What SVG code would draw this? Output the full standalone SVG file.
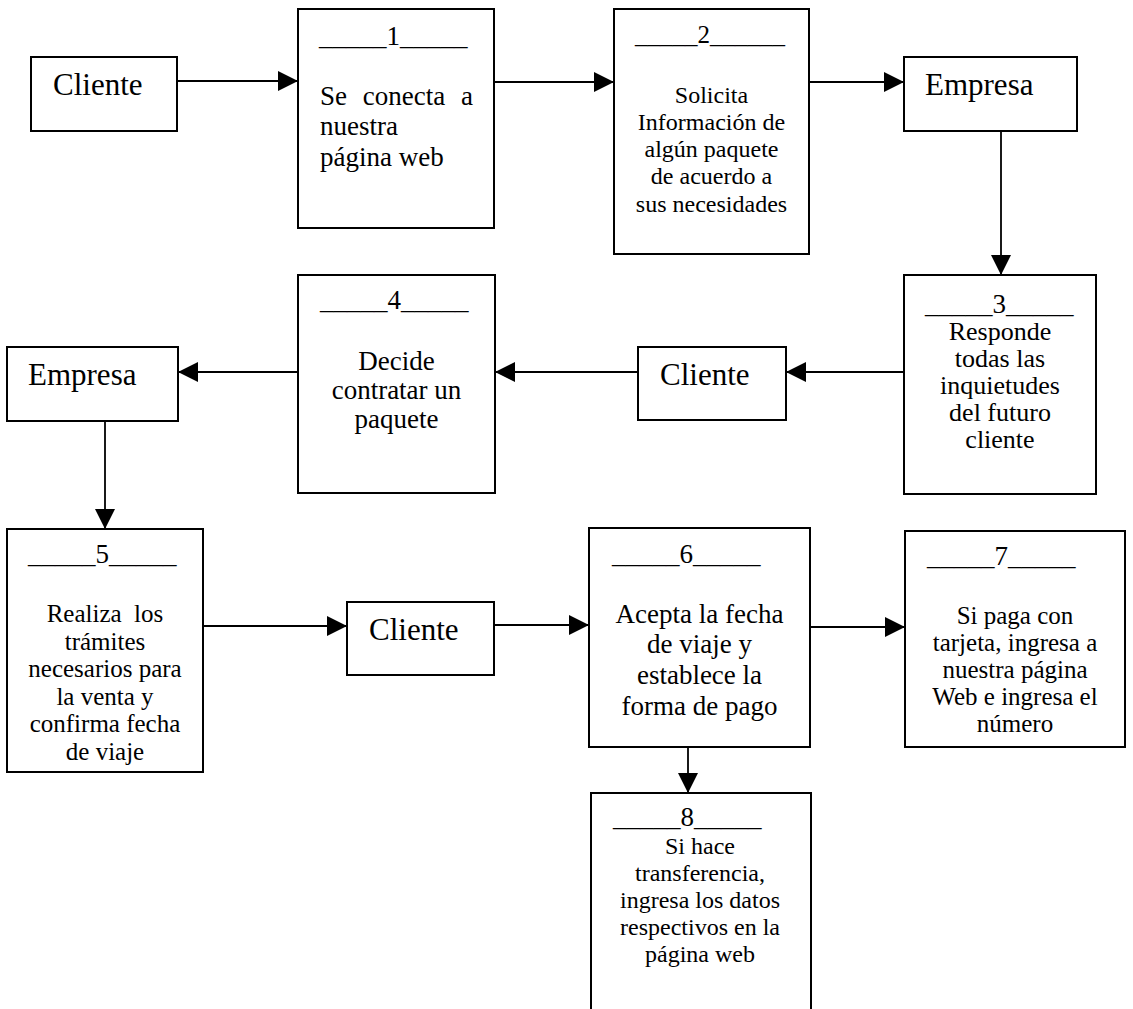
<svg xmlns="http://www.w3.org/2000/svg" width="1133" height="1009" viewBox="0 0 1133 1009">
  <style>
    .box { fill: #ffffff; stroke: #000000; stroke-width: 2; }
    .link { fill: none; stroke: #000000; stroke-width: 1.8; marker-end: url(#arrow); }
    text { font-family: "Liberation Serif", "Times New Roman", serif; fill: #000000; }
    .actor { font-size: 31px; }
    .num { font-size: 27px; }
    .t27 { font-size: 27px; text-anchor: middle; }
    .t26 { font-size: 26px; text-anchor: middle; }
    .t25 { font-size: 25px; text-anchor: middle; white-space: pre; }
    .t24 { font-size: 24px; text-anchor: middle; }
  </style>
  <defs>
    <marker id="arrow" markerUnits="userSpaceOnUse" markerWidth="20" markerHeight="20" refX="20" refY="10" orient="auto">
      <path d="M0,0 L20,10 L0,20 Z" fill="#000000"/>
    </marker>
  </defs>
  <rect width="1133" height="1009" fill="#ffffff"/>

  <!-- connectors -->
  <g id="connectors">
    <line class="link" x1="177" y1="81" x2="298" y2="81"/>
    <line class="link" x1="494" y1="82" x2="614" y2="82"/>
    <line class="link" x1="809" y1="82" x2="904" y2="82"/>
    <line class="link" x1="1001" y1="131" x2="1001" y2="275"/>
    <line class="link" x1="904" y1="372" x2="786" y2="372"/>
    <line class="link" x1="638" y1="372" x2="495" y2="372"/>
    <line class="link" x1="298" y1="372" x2="178" y2="372"/>
    <line class="link" x1="105" y1="421" x2="105" y2="529"/>
    <line class="link" x1="203" y1="626" x2="347" y2="626"/>
    <line class="link" x1="494" y1="625" x2="589" y2="625"/>
    <line class="link" x1="810" y1="627" x2="905" y2="627"/>
    <line class="link" x1="688" y1="747" x2="688" y2="793"/>
  </g>

  <!-- first row -->
  <g id="cliente-1">
    <rect class="box" x="31" y="57" width="146" height="74"/>
    <text class="actor" x="53" y="95">Cliente</text>
  </g>
  <g id="paso-1">
    <rect class="box" x="298" y="9" width="196" height="219"/>
    <text class="num" x="319" y="45">_____1_____</text>
    <text style="font-size:27px" x="320" y="105" word-spacing="9">Se conecta a</text>
    <text style="font-size:27px" x="320" y="135">nuestra</text>
    <text style="font-size:27px" x="320" y="166">página web</text>
  </g>
  <g id="paso-2">
    <rect class="box" x="614" y="9" width="195" height="245"/>
    <text style="font-size:25px" x="635" y="43">_____2______</text>
    <text class="t24" x="711.5" y="103">Solicita</text>
    <text class="t24" x="711.5" y="130">Información de</text>
    <text class="t24" x="711.5" y="157">algún paquete</text>
    <text class="t24" x="711.5" y="184">de acuerdo a</text>
    <text class="t24" x="711.5" y="212">sus necesidades</text>
  </g>
  <g id="empresa-1">
    <rect class="box" x="904" y="57" width="173" height="74"/>
    <text class="actor" x="925" y="95">Empresa</text>
  </g>

  <!-- second row -->
  <g id="paso-3">
    <rect class="box" x="904" y="275" width="192" height="219"/>
    <text class="num" x="925" y="313">_____3_____</text>
    <text class="t26" x="1000" y="340">Responde</text>
    <text class="t26" x="1000" y="367">todas las</text>
    <text class="t26" x="1000" y="394">inquietudes</text>
    <text class="t26" x="1000" y="421">del futuro</text>
    <text class="t26" x="1000" y="448">cliente</text>
  </g>
  <g id="cliente-2">
    <rect class="box" x="638" y="347" width="148" height="73"/>
    <text class="actor" x="660" y="385">Cliente</text>
  </g>
  <g id="paso-4">
    <rect class="box" x="298" y="275" width="197" height="218"/>
    <text class="num" x="320" y="309">_____4_____</text>
    <text class="t27" x="396.5" y="370">Decide</text>
    <text class="t27" x="396.5" y="399">contratar un</text>
    <text class="t27" x="396.5" y="428">paquete</text>
  </g>
  <g id="empresa-2">
    <rect class="box" x="7" y="347" width="171" height="74"/>
    <text class="actor" x="28" y="385">Empresa</text>
  </g>

  <!-- third row -->
  <g id="paso-5">
    <rect class="box" x="7" y="529" width="196" height="243"/>
    <text class="num" x="28" y="563">_____5_____</text>
    <text class="t25" x="105" y="622">Realiza  los</text>
    <text class="t25" x="105" y="650">trámites</text>
    <text class="t25" x="105" y="677">necesarios para</text>
    <text class="t25" x="105" y="705">la venta y</text>
    <text class="t25" x="105" y="732">confirma fecha</text>
    <text class="t25" x="105" y="760">de viaje</text>
  </g>
  <g id="cliente-3">
    <rect class="box" x="347" y="602" width="147" height="73"/>
    <text class="actor" x="369" y="640">Cliente</text>
  </g>
  <g id="paso-6">
    <rect class="box" x="589" y="528" width="221" height="219"/>
    <text class="num" x="612" y="563">_____6_____</text>
    <text class="t27" x="699.5" y="623">Acepta la fecha</text>
    <text class="t27" x="699.5" y="653">de viaje y</text>
    <text class="t27" x="699.5" y="684">establece la</text>
    <text class="t27" x="699.5" y="715">forma de pago</text>
  </g>
  <g id="paso-7">
    <rect class="box" x="905" y="531" width="220" height="216"/>
    <text class="num" x="927" y="565">_____7_____</text>
    <text class="t25" x="1015" y="624">Si paga con</text>
    <text class="t25" x="1015" y="651">tarjeta, ingresa a</text>
    <text class="t25" x="1015" y="678">nuestra página</text>
    <text class="t25" x="1015" y="705">Web e ingresa el</text>
    <text class="t25" x="1015" y="732">número</text>
  </g>

  <!-- bottom box, runs past the lower edge -->
  <g id="paso-8">
    <rect class="box" x="591" y="793" width="220" height="240"/>
    <text class="num" x="613" y="826">_____8_____</text>
    <text class="t24" x="700" y="854">Si hace</text>
    <text class="t24" x="700" y="881">transferencia,</text>
    <text class="t24" x="700" y="908">ingresa los datos</text>
    <text class="t24" x="700" y="935">respectivos en la</text>
    <text class="t24" x="700" y="962">página web</text>
  </g>
</svg>
